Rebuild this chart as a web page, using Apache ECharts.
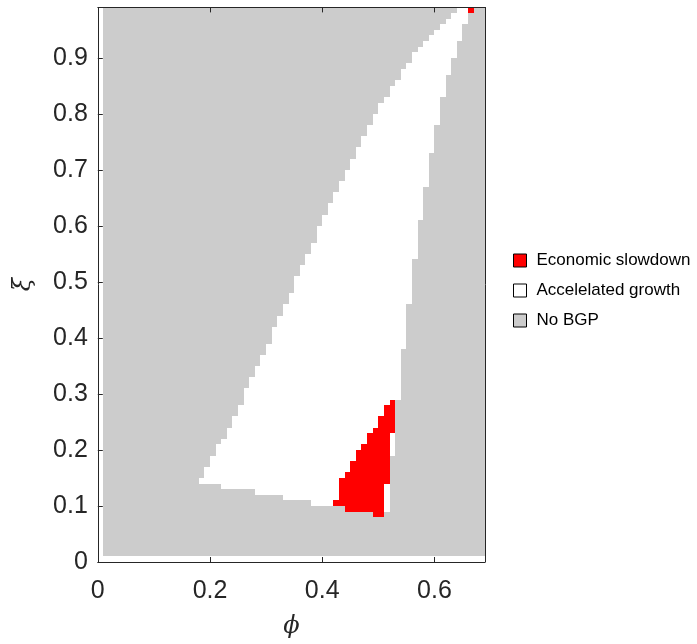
<!DOCTYPE html>
<html><head><meta charset="utf-8">
<script src="https://cdn.jsdelivr.net/npm/echarts@6/dist/echarts.min.js"></script>
<style>html,body{margin:0;padding:0;background:#fff}#c{width:697px;height:644px}</style>
</head><body><div id="c"></div>
<script>
// Parameter grid extent (phi on x, xi on y), cell size 0.01
const phiRange = [0.01, 0.69];
const xiRange = [0.01, 0.99];
const cell = 0.01;

// "Accelelated growth" region: lower xi edge of each row, left / right phi edges
const whiteXi = [0.09,0.10,0.11,0.12,0.13,0.14,0.15,0.16,0.17,0.18,0.19,0.20,0.21,0.22,0.23,0.24,0.25,0.26,0.27,0.28,
  0.29,0.30,0.31,0.32,0.33,0.34,0.35,0.36,0.37,0.38,0.39,0.40,0.41,0.42,0.43,0.44,0.45,0.46,0.47,0.48,
  0.49,0.50,0.51,0.52,0.53,0.54,0.55,0.56,0.57,0.58,0.59,0.60,0.61,0.62,0.63,0.64,0.65,0.66,0.67,0.68,
  0.69,0.70,0.71,0.72,0.73,0.74,0.75,0.76,0.77,0.78,0.79,0.80,0.81,0.82,0.83,0.84,0.85,0.86,0.87,0.88,
  0.89,0.90,0.91,0.92,0.93,0.94,0.95,0.96,0.97,0.98];
const whiteLeft = [0.44,0.38,0.33,0.28,0.22,0.18,0.19,0.19,0.20,0.20,0.21,0.21,0.22,0.23,0.23,0.24,0.24,0.25,0.25,0.26,
  0.26,0.26,0.27,0.27,0.28,0.28,0.29,0.29,0.30,0.30,0.31,0.31,0.31,0.32,0.32,0.33,0.33,0.34,0.34,0.35,
  0.35,0.35,0.36,0.36,0.37,0.37,0.38,0.38,0.39,0.39,0.39,0.40,0.40,0.41,0.41,0.42,0.42,0.43,0.43,0.44,
  0.44,0.45,0.45,0.46,0.46,0.47,0.47,0.48,0.48,0.49,0.49,0.50,0.50,0.51,0.52,0.52,0.53,0.54,0.54,0.55,
  0.56,0.56,0.57,0.58,0.59,0.60,0.61,0.62,0.63,0.64];
const whiteRight = [0.52,0.52,0.52,0.52,0.52,0.52,0.52,0.52,0.52,0.52,0.53,0.53,0.53,0.53,0.53,0.53,0.53,0.53,0.53,0.53,
  0.54,0.54,0.54,0.54,0.54,0.54,0.54,0.54,0.54,0.55,0.55,0.55,0.55,0.55,0.55,0.55,0.55,0.56,0.56,0.56,
  0.56,0.56,0.56,0.56,0.56,0.57,0.57,0.57,0.57,0.57,0.57,0.57,0.58,0.58,0.58,0.58,0.58,0.58,0.59,0.59,
  0.59,0.59,0.59,0.59,0.60,0.60,0.60,0.60,0.60,0.61,0.61,0.61,0.61,0.61,0.62,0.62,0.62,0.62,0.63,0.63,
  0.63,0.64,0.64,0.64,0.65,0.65,0.65,0.66,0.66,0.66];

// "Economic slowdown" region
const redXi = [0.08,0.09,0.10,0.11,0.12,0.13,0.14,0.15,0.16,0.17,0.18,0.19,0.20,0.21,0.22,0.23,0.24,0.25,0.26,0.27,0.28,0.98];
const redLeft = [0.49,0.44,0.42,0.43,0.43,0.43,0.43,0.44,0.45,0.45,0.46,0.46,0.47,0.48,0.48,0.49,0.50,0.50,0.51,0.51,0.52,0.66];
const redRight = [0.51,0.51,0.51,0.51,0.51,0.51,0.52,0.52,0.52,0.52,0.52,0.52,0.52,0.52,0.52,0.53,0.53,0.53,0.53,0.53,0.53,0.67];

const legendNames = ['Economic slowdown', 'Accelelated growth', 'No BGP'];
const colors = {red: '#ff0000', white: '#ffffff', gray: '#cccccc'};

function rows(xi, left, right) {
  return xi.map((y, i) => [y, +(y + cell).toFixed(2), left[i], right[i]]);
}
const grayData = [[xiRange[0], xiRange[1], phiRange[0], phiRange[1]]];
const whiteData = rows(whiteXi, whiteLeft, whiteRight);
const redData = rows(redXi, redLeft, redRight);

function makeRender(color) {
  return function (params, api) {
    const a = api.coord([api.value(2), api.value(1)]);
    const b = api.coord([api.value(3), api.value(0)]);
    const x0 = Math.round(a[0]), y0 = Math.round(a[1]);
    const x1 = Math.round(b[0]), y1 = Math.round(b[1]);
    return {type: 'rect', shape: {x: x0, y: y0, width: x1 - x0, height: y1 - y0}, style: {fill: color}};
  };
}

const axisColor = '#262626';
const font = 'Liberation Sans, Arial, sans-serif';
const chart = echarts.init(document.getElementById('c'), null, {renderer: 'canvas'});
chart.setOption({
  animation: false,
  grid: {left: 97.8, right: 212.1, top: 7.4, bottom: 81.2, containLabel: false},
  xAxis: [{
    type: 'value', min: 0, max: 0.69, interval: 0.2, position: 'bottom', z: 5,
    name: 'ϕ', nameLocation: 'middle', nameGap: 53,
    nameTextStyle: {fontFamily: 'DejaVu Serif', fontStyle: 'italic', fontSize: 24, color: axisColor},
    axisLine: {show: true, onZero: false, lineStyle: {color: axisColor, width: 1}},
    axisTick: {show: true, inside: true, length: 5, lineStyle: {color: axisColor}},
    axisLabel: {fontSize: 25, color: axisColor, fontFamily: font, margin: 17, showMaxLabel: false},
    splitLine: {show: false}
  }, {
    type: 'value', min: 0, max: 0.69, interval: 0.2, position: 'top', z: 5,
    axisLine: {show: true, onZero: false, lineStyle: {color: axisColor, width: 1}},
    axisTick: {show: true, inside: true, length: 5, lineStyle: {color: axisColor}},
    axisLabel: {show: false}, splitLine: {show: false}
  }],
  yAxis: [{
    type: 'value', min: 0, max: 0.99, interval: 0.1, position: 'left', z: 5,
    name: 'ξ', nameLocation: 'middle', nameGap: 62,
    nameTextStyle: {fontFamily: 'DejaVu Serif', fontStyle: 'italic', fontSize: 24, color: axisColor},
    axisLine: {show: true, onZero: false, lineStyle: {color: axisColor, width: 1}},
    axisTick: {show: true, inside: true, length: 5, lineStyle: {color: axisColor}},
    axisLabel: {fontSize: 25, color: axisColor, fontFamily: font, margin: 10, showMaxLabel: false},
    splitLine: {show: false}
  }, {
    type: 'value', min: 0, max: 0.99, interval: 0.1, position: 'right', z: 5,
    axisLine: {show: true, onZero: false, lineStyle: {color: axisColor, width: 1}},
    axisTick: {show: false}, axisLabel: {show: false}, splitLine: {show: false}
  }],
  legend: {
    orient: 'vertical', left: 508, top: 247, itemWidth: 13, itemHeight: 13, itemGap: 13,
    icon: 'rect', selectedMode: false,
    textStyle: {fontSize: 17, color: '#000', fontFamily: font, padding: [0, 0, 0, 5]},
    data: [
      {name: legendNames[0], itemStyle: {color: colors.red, borderColor: '#000', borderWidth: 1}},
      {name: legendNames[1], itemStyle: {color: colors.white, borderColor: '#000', borderWidth: 1}},
      {name: legendNames[2], itemStyle: {color: colors.gray, borderColor: '#000', borderWidth: 1}}
    ]
  },
  series: [
    {name: legendNames[2], type: 'custom', renderItem: makeRender(colors.gray), data: grayData,
     itemStyle: {color: colors.gray}, encode: {x: [2, 3], y: [0, 1]}, z: 1},
    {name: legendNames[1], type: 'custom', renderItem: makeRender(colors.white), data: whiteData,
     itemStyle: {color: colors.white}, encode: {x: [2, 3], y: [0, 1]}, z: 2},
    {name: legendNames[0], type: 'custom', renderItem: makeRender(colors.red), data: redData,
     itemStyle: {color: colors.red}, encode: {x: [2, 3], y: [0, 1]}, z: 3}
  ]
});
</script></body></html>
